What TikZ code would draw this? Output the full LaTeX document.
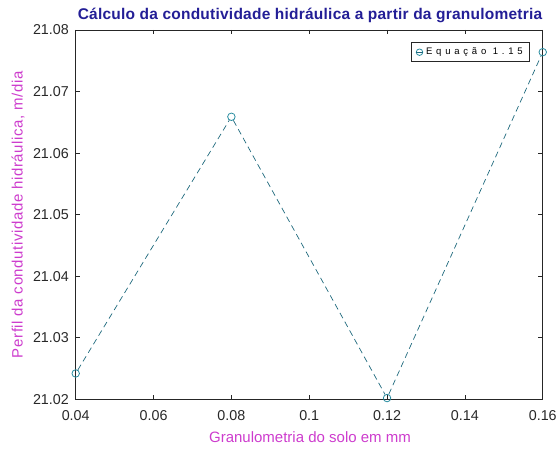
\documentclass[tikz,border=0pt]{standalone}
\usepackage{fontspec}
\setmainfont{Liberation Sans}
\usepackage{xcolor}
\usetikzlibrary{positioning}

\definecolor{titleblue}{RGB}{35,30,150}
\definecolor{labelpink}{RGB}{205,60,205}
\definecolor{ticktext}{RGB}{40,40,40}
\definecolor{seriesline}{RGB}{30,105,125}
\definecolor{seriesmark}{RGB}{40,140,160}

\begin{document}
\begin{tikzpicture}[x=1pt,y=1pt,thick,
  tick label/.style={text=ticktext,font=\fontsize{14.3}{16}\selectfont,inner sep=0pt},
  axis label/.style={text=labelpink,font=\fontsize{15}{17}\selectfont},
  data mark/.style={circle,draw=seriesmark,line width=0.8pt,minimum size=7.5pt,inner sep=0pt}]
\useasboundingbox (0,0) rectangle (556,448);

% plot area in data units (0.01 per unit)
\begin{scope}[shift={(75.7,48.7)},x=38.92pt,y=61.55pt]
\coordinate (origo) at (0,0);
\coordinate (topright) at (12,6);

% Axes box
\draw[line width=0.8pt,draw=black!85] (origo) rectangle (topright);

% Ticks and labels
\foreach \u/\lab in {0/0.04,2/0.06,4/0.08,6/0.1,8/0.12,10/0.14,12/0.16}{
  \draw[line width=0.6pt,draw=black!85] (\u,0) -- ++(0,4.5pt);
  \draw[line width=0.6pt,draw=black!85] (\u,6) -- ++(0,-4.5pt);
  \node[tick label] at ([yshift=-16.5pt]\u,0) {\lab};
}
\foreach \v/\lab in {0/21.02,1/21.03,2/21.04,3/21.05,4/21.06,5/21.07,6/21.08}{
  \draw[line width=0.6pt,draw=black!85] (0,\v) -- ++(4.5pt,0);
  \draw[line width=0.6pt,draw=black!85] (12,\v) -- ++(-4.5pt,0);
  \node[tick label,anchor=east] at ([xshift=-6.5pt]0,\v) {\lab};
}

% Data
\node[data mark] (p1) at (0,0.42) {};
\node[data mark] (p2) at (4,4.59) {};
\node[data mark] (p3) at (8,0.02) {};
\node[data mark] (p4) at (12,5.64) {};
\draw[seriesline,line width=0.7pt,dash pattern=on 6pt off 4pt] (p1) -- (p2) -- (p3) -- (p4);

% Axis labels
\node[axis label] (xlabel) at (6.02,-0.61) {Granulometria do solo em mm};
\node[axis label,rotate=90,font=\fontsize{15}{17}\selectfont\addfontfeature{LetterSpace=4}] (ylabel) at (-1.48,3) {Perfil da condutividade hidráulica, m/dia};
\end{scope}

% Title
\node[text=titleblue,anchor=base,font=\bfseries\fontsize{15.5}{17}\selectfont\addfontfeature{LetterSpace=1.5}] (title) at (310,428.7) {Cálculo da condutividade hidráulica a partir da granulometria};

% Legend
\draw[line width=0.8pt,draw=black!85,fill=white] (411.7,386.3) rectangle (529,405.3);
\node[data mark,minimum size=6.5pt] (legmark) at (419.5,395.8) {};
\draw[seriesline,line width=0.7pt] (legmark.west) -- (legmark.east);
\node[right=2.5pt of legmark,inner sep=0pt,font=\fontsize{9.5}{10}\selectfont\addfontfeature{LetterSpace=40}] (legtext) {Equação 1.15};
\end{tikzpicture}
\end{document}
